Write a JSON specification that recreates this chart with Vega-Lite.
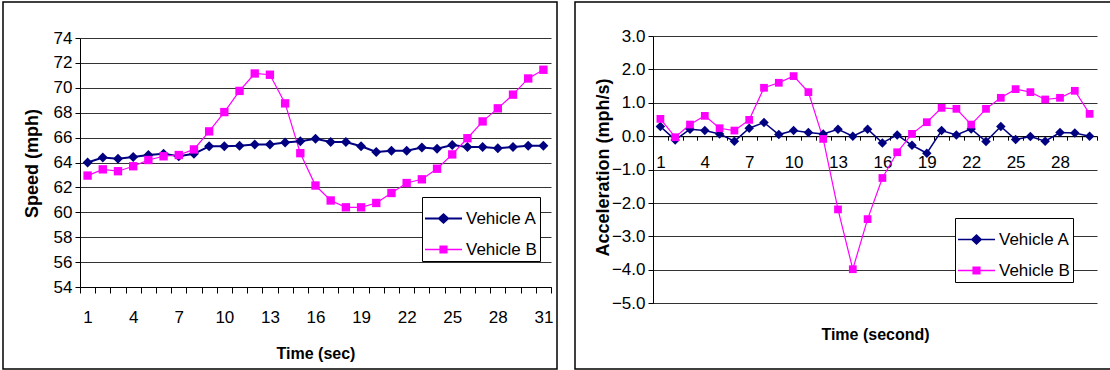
{
  "$schema": "https://vega.github.io/schema/vega-lite/v6.json",
  "padding": {"left": 2, "top": 1, "right": 2, "bottom": 2},
  "background": "white",
  "config": {
    "font": "Liberation Sans",
    "view": {"stroke": "black", "strokeWidth": 1.5},
    "concat": {"spacing": 16},
    "axis": {"labelFont": "Liberation Sans", "titleFont": "Liberation Sans", "labelColor": "black", "titleColor": "black", "domainColor": "black", "tickColor": "black", "gridColor": "#333333", "gridOpacity": 1, "labelFontSize": 17, "titleFontSize": 18, "titleFontWeight": "bold"},
    "legend": {"orient": "none", "title": null, "strokeColor": "black", "fillColor": "white", "padding": 3, "labelFontSize": 17, "labelFont": "Liberation Sans", "labelColor": "black", "labelOffset": 4, "rowPadding": 4, "symbolSize": 1369, "symbolOpacity": 1, "symbolStrokeWidth": 0}
  },
  "datasets": {
    "speed": [
      {"t": 1, "v": "Vehicle A", "speed": 64.0}, {"t": 2, "v": "Vehicle A", "speed": 64.4}, {"t": 3, "v": "Vehicle A", "speed": 64.3}, {"t": 4, "v": "Vehicle A", "speed": 64.45}, {"t": 5, "v": "Vehicle A", "speed": 64.6}, {"t": 6, "v": "Vehicle A", "speed": 64.7}, {"t": 7, "v": "Vehicle A", "speed": 64.5}, {"t": 8, "v": "Vehicle A", "speed": 64.7}, {"t": 9, "v": "Vehicle A", "speed": 65.3}, {"t": 10, "v": "Vehicle A", "speed": 65.3}, {"t": 11, "v": "Vehicle A", "speed": 65.35}, {"t": 12, "v": "Vehicle A", "speed": 65.45}, {"t": 13, "v": "Vehicle A", "speed": 65.45}, {"t": 14, "v": "Vehicle A", "speed": 65.6}, {"t": 15, "v": "Vehicle A", "speed": 65.7}, {"t": 16, "v": "Vehicle A", "speed": 65.9}, {"t": 17, "v": "Vehicle A", "speed": 65.65}, {"t": 18, "v": "Vehicle A", "speed": 65.65}, {"t": 19, "v": "Vehicle A", "speed": 65.3}, {"t": 20, "v": "Vehicle A", "speed": 64.85}, {"t": 21, "v": "Vehicle A", "speed": 64.95}, {"t": 22, "v": "Vehicle A", "speed": 64.95}, {"t": 23, "v": "Vehicle A", "speed": 65.2}, {"t": 24, "v": "Vehicle A", "speed": 65.1}, {"t": 25, "v": "Vehicle A", "speed": 65.4}, {"t": 26, "v": "Vehicle A", "speed": 65.25}, {"t": 27, "v": "Vehicle A", "speed": 65.25}, {"t": 28, "v": "Vehicle A", "speed": 65.15}, {"t": 29, "v": "Vehicle A", "speed": 65.25}, {"t": 30, "v": "Vehicle A", "speed": 65.35}, {"t": 31, "v": "Vehicle A", "speed": 65.35},
      {"t": 1, "v": "Vehicle B", "speed": 62.95}, {"t": 2, "v": "Vehicle B", "speed": 63.45}, {"t": 3, "v": "Vehicle B", "speed": 63.3}, {"t": 4, "v": "Vehicle B", "speed": 63.7}, {"t": 5, "v": "Vehicle B", "speed": 64.2}, {"t": 6, "v": "Vehicle B", "speed": 64.5}, {"t": 7, "v": "Vehicle B", "speed": 64.6}, {"t": 8, "v": "Vehicle B", "speed": 65.05}, {"t": 9, "v": "Vehicle B", "speed": 66.5}, {"t": 10, "v": "Vehicle B", "speed": 68.05}, {"t": 11, "v": "Vehicle B", "speed": 69.75}, {"t": 12, "v": "Vehicle B", "speed": 71.15}, {"t": 13, "v": "Vehicle B", "speed": 71.05}, {"t": 14, "v": "Vehicle B", "speed": 68.75}, {"t": 15, "v": "Vehicle B", "speed": 64.75}, {"t": 16, "v": "Vehicle B", "speed": 62.15}, {"t": 17, "v": "Vehicle B", "speed": 60.95}, {"t": 18, "v": "Vehicle B", "speed": 60.4}, {"t": 19, "v": "Vehicle B", "speed": 60.4}, {"t": 20, "v": "Vehicle B", "speed": 60.75}, {"t": 21, "v": "Vehicle B", "speed": 61.55}, {"t": 22, "v": "Vehicle B", "speed": 62.35}, {"t": 23, "v": "Vehicle B", "speed": 62.65}, {"t": 24, "v": "Vehicle B", "speed": 63.5}, {"t": 25, "v": "Vehicle B", "speed": 64.65}, {"t": 26, "v": "Vehicle B", "speed": 65.95}, {"t": 27, "v": "Vehicle B", "speed": 67.3}, {"t": 28, "v": "Vehicle B", "speed": 68.35}, {"t": 29, "v": "Vehicle B", "speed": 69.45}, {"t": 30, "v": "Vehicle B", "speed": 70.75}, {"t": 31, "v": "Vehicle B", "speed": 71.45}
    ],
    "accel": [
      {"t": 1, "v": "Vehicle A", "acc": 0.29}, {"t": 2, "v": "Vehicle A", "acc": -0.11}, {"t": 3, "v": "Vehicle A", "acc": 0.21}, {"t": 4, "v": "Vehicle A", "acc": 0.17}, {"t": 5, "v": "Vehicle A", "acc": 0.07}, {"t": 6, "v": "Vehicle A", "acc": -0.15}, {"t": 7, "v": "Vehicle A", "acc": 0.24}, {"t": 8, "v": "Vehicle A", "acc": 0.41}, {"t": 9, "v": "Vehicle A", "acc": 0.05}, {"t": 10, "v": "Vehicle A", "acc": 0.17}, {"t": 11, "v": "Vehicle A", "acc": 0.11}, {"t": 12, "v": "Vehicle A", "acc": 0.07}, {"t": 13, "v": "Vehicle A", "acc": 0.21}, {"t": 14, "v": "Vehicle A", "acc": 0.0}, {"t": 15, "v": "Vehicle A", "acc": 0.21}, {"t": 16, "v": "Vehicle A", "acc": -0.2}, {"t": 17, "v": "Vehicle A", "acc": 0.04}, {"t": 18, "v": "Vehicle A", "acc": -0.27}, {"t": 19, "v": "Vehicle A", "acc": -0.51}, {"t": 20, "v": "Vehicle A", "acc": 0.17}, {"t": 21, "v": "Vehicle A", "acc": 0.04}, {"t": 22, "v": "Vehicle A", "acc": 0.22}, {"t": 23, "v": "Vehicle A", "acc": -0.16}, {"t": 24, "v": "Vehicle A", "acc": 0.29}, {"t": 25, "v": "Vehicle A", "acc": -0.1}, {"t": 26, "v": "Vehicle A", "acc": -0.01}, {"t": 27, "v": "Vehicle A", "acc": -0.15}, {"t": 28, "v": "Vehicle A", "acc": 0.11}, {"t": 29, "v": "Vehicle A", "acc": 0.1}, {"t": 30, "v": "Vehicle A", "acc": 0.0},
      {"t": 1, "v": "Vehicle B", "acc": 0.52}, {"t": 2, "v": "Vehicle B", "acc": -0.03}, {"t": 3, "v": "Vehicle B", "acc": 0.35}, {"t": 4, "v": "Vehicle B", "acc": 0.61}, {"t": 5, "v": "Vehicle B", "acc": 0.24}, {"t": 6, "v": "Vehicle B", "acc": 0.17}, {"t": 7, "v": "Vehicle B", "acc": 0.49}, {"t": 8, "v": "Vehicle B", "acc": 1.45}, {"t": 9, "v": "Vehicle B", "acc": 1.6}, {"t": 10, "v": "Vehicle B", "acc": 1.8}, {"t": 11, "v": "Vehicle B", "acc": 1.32}, {"t": 12, "v": "Vehicle B", "acc": -0.08}, {"t": 13, "v": "Vehicle B", "acc": -2.19}, {"t": 14, "v": "Vehicle B", "acc": -3.98}, {"t": 15, "v": "Vehicle B", "acc": -2.48}, {"t": 16, "v": "Vehicle B", "acc": -1.25}, {"t": 17, "v": "Vehicle B", "acc": -0.48}, {"t": 18, "v": "Vehicle B", "acc": 0.07}, {"t": 19, "v": "Vehicle B", "acc": 0.42}, {"t": 20, "v": "Vehicle B", "acc": 0.85}, {"t": 21, "v": "Vehicle B", "acc": 0.82}, {"t": 22, "v": "Vehicle B", "acc": 0.35}, {"t": 23, "v": "Vehicle B", "acc": 0.82}, {"t": 24, "v": "Vehicle B", "acc": 1.15}, {"t": 25, "v": "Vehicle B", "acc": 1.41}, {"t": 26, "v": "Vehicle B", "acc": 1.32}, {"t": 27, "v": "Vehicle B", "acc": 1.1}, {"t": 28, "v": "Vehicle B", "acc": 1.15}, {"t": 29, "v": "Vehicle B", "acc": 1.36}, {"t": 30, "v": "Vehicle B", "acc": 0.67}
    ]
  },
  "resolve": {"scale": {"color": "independent", "shape": "independent", "size": "independent", "strokeWidth": "independent"}, "legend": {"color": "independent", "shape": "independent"}},
  "hconcat": [
    {
      "width": 554,
      "height": 367,
      "data": {"name": "speed"},
      "resolve": {"scale": {"shape": "independent", "color": "independent"}, "legend": {"shape": "independent", "color": "independent"}},
      "encoding": {
        "x": {"field": "t", "type": "ordinal", "scale": {"type": "band", "range": [77, 548], "paddingInner": 0, "paddingOuter": 0},
          "axis": {"orient": "bottom", "offset": -82, "grid": false, "tickBand": "extent", "tickSize": 6, "labelAngle": 0, "labelPadding": 16, "labelExpr": "(datum.value - 1) % 3 == 0 ? datum.label : ''", "title": "Time (sec)", "titleFontSize": 16, "titleY": 66, "titleBaseline": "middle"}},
        "y": {"field": "speed", "type": "quantitative", "scale": {"domain": [54, 74], "range": [285, 36], "nice": false, "zero": false},
          "axis": {"offset": -77, "values": [54, 56, 58, 60, 62, 64, 66, 68, 70, 72, 74], "tickSize": 5, "labelPadding": 3, "title": "Speed (mph)", "titleAngle": -90, "titleX": -48, "titleY": 161, "titleAlign": "center", "titleBaseline": "middle"}}
      },
      "layer": [
        {
          "mark": {"type": "line"},
          "encoding": {
            "color": {"field": "v", "type": "nominal", "scale": {"domain": ["Vehicle A", "Vehicle B"], "range": ["#000080", "#ff00ff"]}, "legend": null},
            "strokeWidth": {"field": "v", "type": "nominal", "scale": {"domain": ["Vehicle A", "Vehicle B"], "range": [2, 1.2]}, "legend": null}
          }
        },
        {
          "mark": {"type": "point", "filled": true, "opacity": 1},
          "encoding": {
            "color": {"field": "v", "type": "nominal", "scale": {"domain": ["Vehicle A", "Vehicle B"], "range": ["#000080", "#ff00ff"]}, "legend": null},
            "shape": {"field": "v", "type": "nominal", "scale": {"domain": ["Vehicle A", "Vehicle B"], "range": ["diamond", "square"]}, "legend": null},
            "size": {"field": "v", "type": "nominal", "scale": {"domain": ["Vehicle A", "Vehicle B"], "range": [100, 70]}, "legend": null}
          }
        },
        {
          "mark": {"type": "point", "filled": true, "opacity": 0},
          "encoding": {
            "color": {"field": "v", "type": "nominal", "scale": {"domain": ["Vehicle A", "Vehicle B"], "range": ["#000080", "#ff00ff"]}, "legend": {"legendX": 419, "legendY": 195}},
            "shape": {"field": "v", "type": "nominal", "scale": {"domain": ["Vehicle A", "Vehicle B"], "range": ["M-1,-0.055H-0.27L0,-0.3L0.27,-0.055H1V0.055H0.27L0,0.3L-0.27,0.055H-1Z", "M-1,-0.035H-0.22V-0.22H0.22V-0.035H1V0.035H0.22V0.22H-0.22V0.035H-1Z"]}, "legend": {"legendX": 419, "legendY": 195}}
          }
        }
      ]
    },
    {
      "width": 536,
      "height": 367,
      "data": {"name": "accel"},
      "resolve": {"scale": {"shape": "independent", "color": "independent"}, "legend": {"shape": "independent", "color": "independent"}},
      "encoding": {
        "x": {"field": "t", "type": "ordinal", "scale": {"type": "band", "range": [78, 522], "paddingInner": 0, "paddingOuter": 0},
          "axis": {"orient": "bottom", "offset": -232.8, "grid": false, "tickBand": "extent", "tickSize": 4, "labelAngle": 0, "labelPadding": 14, "labelExpr": "(datum.value - 1) % 3 == 0 ? datum.label : ''", "title": "Time (second)", "titleFontSize": 16, "titleY": 198, "titleBaseline": "middle"}},
        "y": {"field": "acc", "type": "quantitative", "scale": {"domain": [-5, 3], "range": [301.3, 34], "nice": false, "zero": false},
          "axis": {"offset": -78, "values": [-5, -4, -3, -2, -1, 0, 1, 2, 3], "format": ".1f", "tickSize": 5, "labelPadding": 3, "title": "Acceleration (mph/s)", "titleAngle": -90, "titleX": -50, "titleY": 165, "titleAlign": "center", "titleBaseline": "middle"}}
      },
      "layer": [
        {
          "mark": {"type": "line"},
          "encoding": {
            "color": {"field": "v", "type": "nominal", "scale": {"domain": ["Vehicle A", "Vehicle B"], "range": ["#000080", "#ff00ff"]}, "legend": null},
            "strokeWidth": {"field": "v", "type": "nominal", "scale": {"domain": ["Vehicle A", "Vehicle B"], "range": [1.5, 1.2]}, "legend": null}
          }
        },
        {
          "mark": {"type": "point", "filled": true, "opacity": 1},
          "encoding": {
            "color": {"field": "v", "type": "nominal", "scale": {"domain": ["Vehicle A", "Vehicle B"], "range": ["#000080", "#ff00ff"]}, "legend": null},
            "shape": {"field": "v", "type": "nominal", "scale": {"domain": ["Vehicle A", "Vehicle B"], "range": ["diamond", "square"]}, "legend": null},
            "size": {"field": "v", "type": "nominal", "scale": {"domain": ["Vehicle A", "Vehicle B"], "range": [90, 60]}, "legend": null}
          }
        },
        {
          "mark": {"type": "point", "filled": true, "opacity": 0},
          "encoding": {
            "color": {"field": "v", "type": "nominal", "scale": {"domain": ["Vehicle A", "Vehicle B"], "range": ["#000080", "#ff00ff"]}, "legend": {"legendX": 380, "legendY": 216}},
            "shape": {"field": "v", "type": "nominal", "scale": {"domain": ["Vehicle A", "Vehicle B"], "range": ["M-1,-0.04H-0.27L0,-0.3L0.27,-0.04H1V0.04H0.27L0,0.3L-0.27,0.04H-1Z", "M-1,-0.035H-0.22V-0.22H0.22V-0.035H1V0.035H0.22V0.22H-0.22V0.035H-1Z"]}, "legend": {"legendX": 380, "legendY": 216}}
          }
        }
      ]
    }
  ]
}
